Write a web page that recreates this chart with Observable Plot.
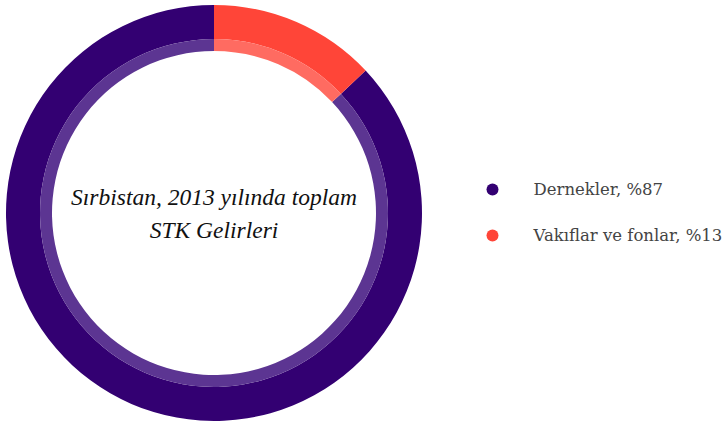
<!DOCTYPE html>
<html><head><meta charset="utf-8">
<script src="https://cdn.jsdelivr.net/npm/d3@7"></script>
<script src="https://cdn.jsdelivr.net/npm/@observablehq/plot@0.6"></script>
<style>
body{margin:0;background:#fff;}
#chart{width:724px;height:423px;}
</style></head>
<body><div id="chart"></div>
<script>
const categories = ["Dernekler", "Vakıflar ve fonlar"];
const shares = [87, 13];
const colors = ["#330072", "#ff4538"];
const innerColors = ["#5c3592", "#ff6b61"];
const titleLines = ["Sırbistan, 2013 yılında toplam", "STK Gelirleri"];

const data = categories.map((c, i) => ({category: c, share: shares[i], color: colors[i], inner: innerColors[i], label: `${c}, %${shares[i]}`}));

const cx = 214, cy = 213;
const donut = (index, scales, values, dims) => {
  const g = d3.create("svg:g").attr("transform", `translate(${cx},${cy})`);
  const total = d3.sum(data, d => d.share);
  const start = -2 * Math.PI * data[0].share / total;
  const pie = d3.pie().value(d => d.share).sort(null).startAngle(start).endAngle(start + 2 * Math.PI)(data);
  const outer = d3.arc().innerRadius(174).outerRadius(208);
  const inner = d3.arc().innerRadius(162).outerRadius(174);
  g.selectAll("path.o").data(pie).join("path").attr("d", outer).attr("fill", d => d.data.color);
  g.selectAll("path.i").data(pie).join("path").attr("d", inner).attr("fill", d => d.data.inner);
  g.selectAll("text").data(titleLines).join("text")
    .attr("x", 0).attr("y", (d, i) => -8 + i * 33)
    .attr("text-anchor", "middle")
    .attr("font-family", "'Liberation Serif', serif")
    .attr("font-style", "italic")
    .attr("font-size", 23.5)
    .attr("fill", "#111")
    .text(d => d);
  return g.node();
};

const plot = Plot.plot({
  width: 724, height: 423,
  margin: 0,
  x: {domain: [0, 724], range: [0, 724], axis: null},
  y: {type: "point", domain: categories, range: [189, 235], padding: 0, axis: null},
  marks: [
    donut,
    Plot.dot(data, {x: () => 492, y: "category", r: 6, fill: "color", stroke: null}),
    Plot.text(data, {x: () => 533, y: "category", text: "label", textAnchor: "start", fontSize: 16.5, fill: "#444", fontFamily: "'DejaVu Serif', serif"})
  ]
});
document.getElementById("chart").append(plot);
</script></body></html>
